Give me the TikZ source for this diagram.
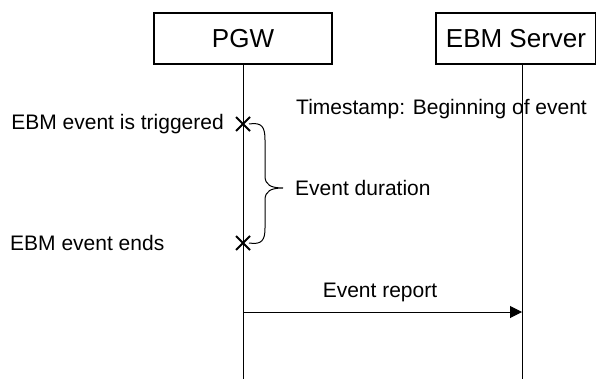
\documentclass[tikz,border=0pt]{standalone}
\usepackage{fontspec}
\setmainfont{Liberation Sans}
\usetikzlibrary{arrows.meta,shapes.misc}
\begin{document}
\begin{tikzpicture}[x=1pt,y=-1pt,
  actor/.style={draw,line width=2pt,minimum height=51pt,inner sep=0pt,
    font=\fontsize{26}{30}\selectfont},
  lifeline/.style={line width=1pt},
  lbl/.style={font=\fontsize{21}{25}\selectfont,inner sep=0pt},
  xmark/.style={cross out,draw,line width=2pt,minimum size=12pt,inner sep=0pt},
  msg/.style={line width=1pt,-{Triangle[length=12pt,width=12pt]}}]
  \useasboundingbox (0,0) rectangle (596,379);

  % participants
  \node[actor,minimum width=178pt] (pgw) at (243,38.5) {PGW};
  \node[actor,minimum width=160pt,anchor=west] (ebm) at (435,38.5) {EBM Server};
  \coordinate (ebmx) at (522,38.5);

  % lifelines
  \coordinate (pgwend) at (243,379);
  \coordinate (ebmend) at (522,379);
  \draw[lifeline] (pgw.south) -- (pgwend);
  \draw[lifeline] (ebmx |- ebm.south) -- (ebmend);

  % event start and end on the PGW lifeline
  \node[xmark] (trig) at (243,124) {};
  \node[xmark] (ends) at (243,243) {};
  \node[lbl,anchor=east] (trigl) at (224,124) {EBM event is triggered};
  \node[lbl,anchor=west] (endsl) at (10,243) {EBM event ends};
  \node[lbl,anchor=west] (ts) at (296,109) {Timestamp: Beginning of event};

  % duration brace
  \coordinate (b1) at (249,124);
  \coordinate (b2) at (249,243);
  \coordinate (tip) at (283,188);
  \draw[line width=1pt] (b1) .. controls (262,122) and (265,127) .. (265,140)
    -- (265,176) .. controls (265,185) and (271,188) .. (tip)
    .. controls (271,188) and (265,191) .. (265,200)
    -- (265,228) .. controls (265,240) and (262,245) .. (b2);
  \node[lbl,anchor=west] (dur) at (295,188) {Event duration};

  % report message
  \coordinate (r1) at (243,312);
  \coordinate (r2) at (522,312);
  \draw[msg] (r1) -- (r2);
  \node[lbl] (rep) at (380,292) {Event report};
\end{tikzpicture}
\end{document}
